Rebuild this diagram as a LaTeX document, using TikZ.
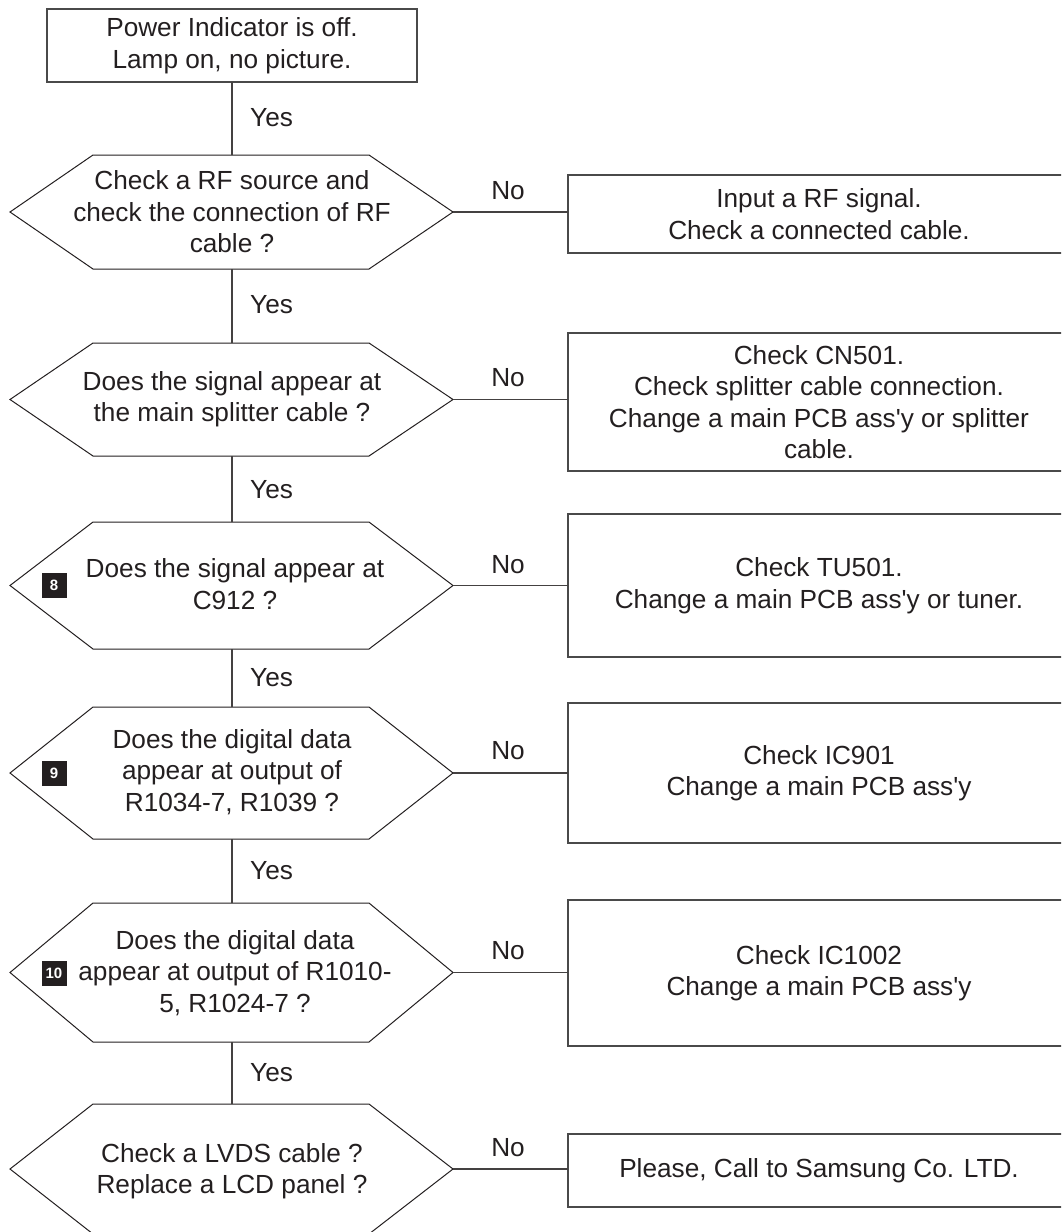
\documentclass[tikz,border=0pt]{standalone}
\usepackage{fontspec}
\setmainfont{Liberation Sans}
\definecolor{ink}{HTML}{231F20}
\definecolor{frame}{HTML}{4A4A4A}
\newcommand{\hexq}[3]{%
  \draw[hexline] (10,{(#2+#3)/2}) -- (93,#2) -- (369,#2) -- (453,{(#2+#3)/2}) -- (369,#3) -- (93,#3) -- cycle;
  \coordinate (#1-t) at (232,#2);
  \coordinate (#1-b) at (232,#3);
  \coordinate (#1-r) at (453,{(#2+#3)/2});
}
\begin{document}
\begin{tikzpicture}[x=1pt,y=-1pt,
  txt/.style={font=\fontsize{26.2}{31.5}\selectfont, align=center, inner sep=0pt, text=ink},
  rbox/.style={txt, draw=frame, line width=1.5pt, minimum width=502pt, inner sep=0pt, outer sep=0pt},
  hexline/.style={draw=ink, line width=1pt, line join=miter},
  conn/.style={draw=ink!85, line width=1.3pt},
  lbl/.style={font=\fontsize{26.2}{31.5}\selectfont, inner sep=0pt, text=ink},
  badge/.style={fill=ink, text=white, font=\fontsize{15}{15}\selectfont\bfseries, minimum size=25pt, inner sep=0pt},
]
\useasboundingbox (0,0) rectangle (1061,1232);
\clip (0,0) rectangle (1061,1232);

% start box
\node[rbox, minimum width=370pt, minimum height=73pt] (start) at (232,45.5)
  {Power Indicator is off.\\Lamp on, no picture.};

% decision hexagons
\hexq{h1}{155}{269}
\hexq{h2}{343}{456}
\hexq{h3}{522}{649}
\hexq{h4}{707}{839}
\hexq{h5}{903}{1042}
\hexq{h6}{1104}{1234}

\node[txt] (q1) at (232,212) {Check a RF source and\\check the connection of RF\\cable ?};
\node[txt] (q2) at (232,399) {Does the signal appear at\\the main splitter cable ?};
\node[txt] (q3) at (235,584) {Does the signal appear at\\C912 ?};
\node[txt] (q4) at (232,772) {Does the digital data\\appear at output of\\R1034-7, R1039 ?};
\node[txt] (q5) at (235,973) {Does the digital data\\appear at output of R1010-\\5, R1024-7 ?};
\node[txt] (q6) at (232,1171) {Check a LVDS cable ?\\Replace a LCD panel ?};

% badges
\node[badge] (k8) at (54,585) {8};
\node[badge] (k9) at (54,773) {9};
\node[badge] (k10) at (54,973) {10};

% right boxes
\node[rbox, minimum height=78pt] (b1) at (819,214)
  {Input a RF signal.\\Check a connected cable.};
\node[rbox, minimum height=138pt] (b2) at (819,402)
  {Check CN501.\\Check splitter cable connection.\\Change a main PCB ass\textquotesingle y or splitter\\cable.};
\node[rbox, minimum height=143pt] (b3) at (819,585.5)
  {Check TU501.\\Change a main PCB ass\textquotesingle y or tuner.};
\node[rbox, minimum height=140pt] (b4) at (819,773)
  {Check IC901\\Change a main PCB ass\textquotesingle y};
\node[rbox, minimum height=146pt] (b5) at (819,973)
  {Check IC1002\\Change a main PCB ass\textquotesingle y};
\node[rbox, minimum height=73pt] (b6) at (819,1170.5)
  {Please, Call to Samsung Co. LTD.};

% vertical connectors (Yes)
\draw[conn] (start.south) -- (h1-t);
\draw[conn] (h1-b) -- (h2-t);
\draw[conn] (h2-b) -- (h3-t);
\draw[conn] (h3-b) -- (h4-t);
\draw[conn] (h4-b) -- (h5-t);
\draw[conn] (h5-b) -- (h6-t);

% horizontal connectors (No)
\draw[conn] (h1-r) -- (h1-r -| b1.west);
\draw[conn] (h2-r) -- (h2-r -| b2.west);
\draw[conn] (h3-r) -- (h3-r -| b3.west);
\draw[conn] (h4-r) -- (h4-r -| b4.west);
\draw[conn] (h5-r) -- (h5-r -| b5.west);
\draw[conn] (h6-r) -- (h6-r -| b6.west);

% Yes labels
\node[lbl, anchor=west] (y1) at (250,118) {Yes};
\node[lbl, anchor=west] (y2) at (250,305) {Yes};
\node[lbl, anchor=west] (y3) at (250,490) {Yes};
\node[lbl, anchor=west] (y4) at (250,678) {Yes};
\node[lbl, anchor=west] (y5) at (250,871) {Yes};
\node[lbl, anchor=west] (y6) at (250,1073) {Yes};

% No labels
\node[lbl] (n1) at (508,191) {No};
\node[lbl] (n2) at (508,378) {No};
\node[lbl] (n3) at (508,565) {No};
\node[lbl] (n4) at (508,751) {No};
\node[lbl] (n5) at (508,951) {No};
\node[lbl] (n6) at (508,1148) {No};
\end{tikzpicture}
\end{document}
